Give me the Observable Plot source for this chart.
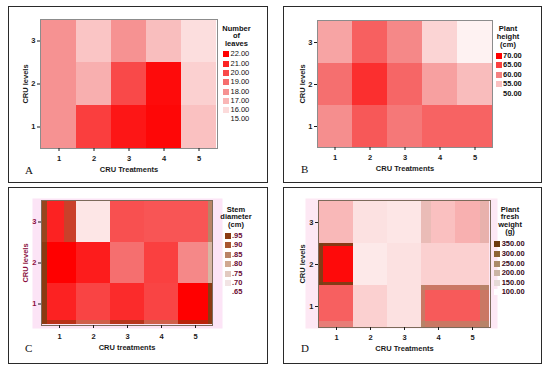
<!DOCTYPE html>
<html><head><meta charset="utf-8">
<script src="https://cdn.jsdelivr.net/npm/d3@7"></script>
<script src="https://cdn.jsdelivr.net/npm/@observablehq/plot@0.6"></script>
<style>
body{margin:0;background:#fff;}
#page{position:relative;width:550px;height:370px;overflow:hidden;background:#fff;font-family:"Liberation Sans",Arial,sans-serif;}
.box{position:absolute;border:1.5px solid #2a2a2a;box-sizing:border-box;}
.lt{position:absolute;font-weight:bold;font-size:7.5px;text-align:center;line-height:7px;height:7px;color:#111;width:70px;}
.sw{position:absolute;width:6px;height:6px;}
.ll{position:absolute;font-size:7.5px;line-height:8px;color:#111;white-space:nowrap;}
.letter{position:absolute;font-family:"Liberation Serif","Times New Roman",serif;font-size:11px;line-height:11px;color:#111;}
</style></head><body><div id="page"></div>
<script>
// ---- data ----
const treatments = ["1","2","3","4","5"];
const levels = ["3","2","1"];            // rows top to bottom
const leaves = [[18.0,16.6,18.0,16.8,15.9],[18.0,17.2,20.0,21.7,16.3],[18.0,20.3,21.4,21.8,16.7]];
const plantHeight = [[57.2,62.5,59.4,53.4,51.0],[61.3,66.3,62.0,57.5,55.3],[58.9,63.1,60.6,62.3,62.3]];
const stem = [[0.91,0.68,0.856,0.85,0.85],[0.95,0.917,0.82,0.875,0.79],[0.91,0.87,0.90,0.87,0.95]];
const weight = [[170,130,125,162,178],[340,122,130,146,146],[256,146,130,262,262]];
const leavesTicks = [22,21,20,19,18,17,16,15];
const heightTicks = [70,65,60,55,50];
const stemTicks = [0.95,0.90,0.85,0.80,0.75,0.70,0.65];
const weightTicks = [350,300,250,200,150,100];
// rendering artefacts (brown edges) seen in panels C and D
const cEdgeLeft = [{t:"1",l:"3",v:0.93},{t:"1",l:"2",v:0.95},{t:"1",l:"1",v:0.95}];
const cEdgeRight = [{t:"5",l:"3",v:0.85},{t:"5",l:"2",v:0.78},{t:"5",l:"1",v:0.95}];
const cEdgeBottom = [{t:"1",l:"1",v:0.95},{t:"2",l:"1",v:0.87},{t:"3",l:"1",v:0.95},{t:"4",l:"1",v:0.87},{t:"5",l:"1",v:0.95}];
const cEdgeInner = [{t:"1",l:"3",v:0.90}];
const dEdgeDark = [{t:"1",l:"2",v:340}];
const dEdgeTanTB = [{t:"4",l:"1",v:250},{t:"5",l:"1",v:250}];
const dEdgeTanLeft = [{t:"4",l:"1",v:250}];
const dEdgeTanRight = [{t:"5",l:"1",v:250}];
const dEdgeLightLeft = [{t:"4",l:"3",v:200}];
const dEdgeLightRight = [{t:"5",l:"3",v:200}];
const dEdgeLightBottom = [{t:"1",l:"1",v:200}];

// ---- scales ----
const redScale = (lo, mid, hi) => Plot.scale({color:{type:"linear", domain:[lo,mid,hi], range:["#ffffff","#f48080","#ff0000"], interpolate:"rgb"}});
const redA = redScale(15,18.5,22), redB = redScale(50,60,70), redC = redScale(0.65,0.80,0.95), redD = redScale(100,225,350);
const brownC = Plot.scale({color:{type:"linear", domain:[0.65,0.70,0.75,0.80,0.85,0.90,0.95],
  range:["#ffffff","#f2e4e4","#e2cac0","#d0a890","#b98366","#a85530","#8b3a12"], interpolate:"rgb"}});
const brownD = Plot.scale({color:{type:"linear", domain:[100,150,200,250,300,350],
  range:["#ffffff","#e5dad6","#cbb5a5","#ab8b6b","#8d6535","#6b3a10"], interpolate:"rgb"}});

const page = document.getElementById("page");
function tidy(m){ const out=[]; levels.forEach((l,i)=>treatments.forEach((t,j)=>out.push({t,l,v:m[i][j]}))); return out; }
function el(cls, css, text){ const d=document.createElement("div"); d.className=cls; Object.assign(d.style, css); if(text!=null) d.textContent=text; page.appendChild(d); return d; }
function strip(data, scale, o){ return Plot.cell(data, {x:"t", y:"l", fill:d=>scale.apply(d.v), shapeRendering:"crispEdges", ...o}); }

function heat(p){
  const svg = Plot.plot({
    width:p.w, height:p.h, marginLeft:p.mL, marginTop:p.mT, marginRight:p.mR, marginBottom:p.mB,
    style:{background:"none", fontFamily:"'Liberation Sans',Arial,sans-serif", fontSize:"7.5px", fontWeight:"bold", color:"#1a1a1a", overflow:"visible"},
    x:{domain:treatments, padding:0},
    y:{domain:levels, padding:0},
    color:{type:"identity"},
    marks:[
      ...(p.bg ? [Plot.frame({fill:p.bg, stroke:"none", ...p.bgInset})] : []),
      Plot.cell(tidy(p.data), {x:"t", y:"l", fill:d=>p.red.apply(d.v), inset:0, shapeRendering:"crispEdges"}),
      ...(p.extra||[]),
      Plot.frame({stroke:p.frame, strokeWidth:1}),
      Plot.axisX({tickSize:3, tickPadding:p.tpx, label:p.xlabel, labelAnchor:"center", labelOffset:p.lox}),
      Plot.axisY({tickSize:3, tickPadding:2, label:"CRU levels", labelAnchor:"center", labelOffset:p.loy, ...(p.yfill?{fill:p.yfill}:{})})
    ]
  });
  svg.style.position="absolute"; svg.style.left=p.left+"px"; svg.style.top=p.top+"px";
  page.appendChild(svg);
}
function legend(L){
  L.title.forEach((s,i)=>el("lt",{left:(L.cx-35)+"px", top:(L.ty+i*L.tstep-3.5)+"px"}, s));
  L.ticks.forEach((v,i)=>{
    const y = L.ry + i*L.step;
    el("sw",{left:L.sx+"px", top:(y-3)+"px", background:L.swatch.apply(v)});
    el("ll",{left:L.lx+"px", top:(y-4)+"px", color:L.color||"#111", fontWeight:L.weight||"normal"}, L.fmt(v));
  });
}
const f2 = v => v.toFixed(2);
const fdot = v => v.toFixed(2).replace(/^0/,"");

// panel boxes
el("box",{left:"8px",top:"6px",width:"260px",height:"177px"});
el("box",{left:"283px",top:"6px",width:"259px",height:"177px"});
el("box",{left:"8px",top:"187px",width:"260px",height:"177px"});
el("box",{left:"283px",top:"187px",width:"259px",height:"177px"});

// A
heat({data:leaves, red:redA, left:8, top:6, w:211, h:175, mL:32, mT:13, mR:2, mB:33, frame:"#8c8c8c",
  xlabel:"CRU Treatments", tpx:4.3, lox:23.5, loy:17.75});
legend({title:["Number","of","leaves"], cx:236.5, ty:28.3, tstep:7.5, ticks:leavesTicks, ry:54.3, step:9.3, sx:223, lx:230.5, fmt:f2, swatch:redA});
el("letter",{left:"25px", top:"164.8px"}, "A");

// B
heat({data:plantHeight, red:redB, left:283, top:6, w:211, h:175, mL:34, mT:14, mR:2, mB:34, frame:"#8c8c8c",
  xlabel:"CRU Treatments", tpx:4, lox:23.5, loy:17.75});
legend({title:["Plant","height","(cm)"], cx:508, ty:28, tstep:8.2, ticks:heightTicks, ry:55.7, step:9.5, sx:496, lx:503, fmt:f2, swatch:redB, weight:"bold"});
el("letter",{left:"301px", top:"164.2px"}, "B");

// C
heat({data:stem, red:redC, left:8, top:187, w:216, h:173, mL:33, mT:13, mR:12, mB:35, frame:"#7c6a5a",
  xlabel:"CRU treatments", tpx:5, lox:24.5, loy:18.75, yfill:"#8b1040",
  bg:"#fce4f6", bgInset:{insetLeft:-9, insetRight:-10, insetTop:-2, insetBottom:-3},
  extra:[
    strip(cEdgeBottom, brownC, {insetTop:36.7, fillOpacity:0.6}),
    strip(cEdgeInner, brownC, {insetLeft:22, fillOpacity:0.6}),
    strip(cEdgeLeft, brownC, {insetRight:29.2}),
    strip(cEdgeRight, brownC, {insetLeft:30.2})
  ]});
legend({title:["Stem","diameter","(cm)"], cx:236, ty:209, tstep:7.65, ticks:stemTicks, ry:236, step:9.4, sx:224.5, lx:232, fmt:fdot, swatch:brownC, weight:"bold", color:"#6a0a30"});
el("letter",{left:"25px", top:"342.5px"}, "C");

// D
heat({data:weight, red:redD, left:283, top:187, w:217, h:175, mL:35, mT:13, mR:10, mB:35, frame:"#7c6a5a",
  xlabel:"CRU Treatments", tpx:4.6, lox:23.5, loy:18.75,
  bg:"#fde8f4", bgInset:{insetLeft:-13, insetRight:-7, insetTop:-2, insetBottom:-1},
  extra:[
    strip(dEdgeLightLeft, brownD, {insetRight:24.4, fillOpacity:0.35}),
    strip(dEdgeLightRight, brownD, {insetLeft:25.4, fillOpacity:0.35}),
    strip(dEdgeLightBottom, brownD, {insetTop:36.3, fillOpacity:0.35}),
    strip(dEdgeTanTB, brownD, {insetBottom:37.3, fillOpacity:0.6}),
    strip(dEdgeTanTB, brownD, {insetTop:36.3, fillOpacity:0.6}),
    strip(dEdgeTanLeft, brownD, {insetRight:30.4, fillOpacity:0.6}),
    strip(dEdgeTanRight, brownD, {insetLeft:25.4, fillOpacity:0.6}),
    strip(dEdgeDark, brownD, {insetBottom:39.3, fillOpacity:0.85}),
    strip(dEdgeDark, brownD, {insetTop:39.3, fillOpacity:0.85}),
    strip(dEdgeDark, brownD, {insetRight:30.4, fillOpacity:0.85})
  ]});
legend({title:["Plant","fresh","weight","(g)"], cx:510, ty:209, tstep:7.55, ticks:weightTicks, ry:244.3, step:9.6, sx:494, lx:501.7, fmt:f2, swatch:brownD, weight:"bold", color:"#3a0818"});
el("letter",{left:"301px", top:"342.5px"}, "D");
</script></body></html>
